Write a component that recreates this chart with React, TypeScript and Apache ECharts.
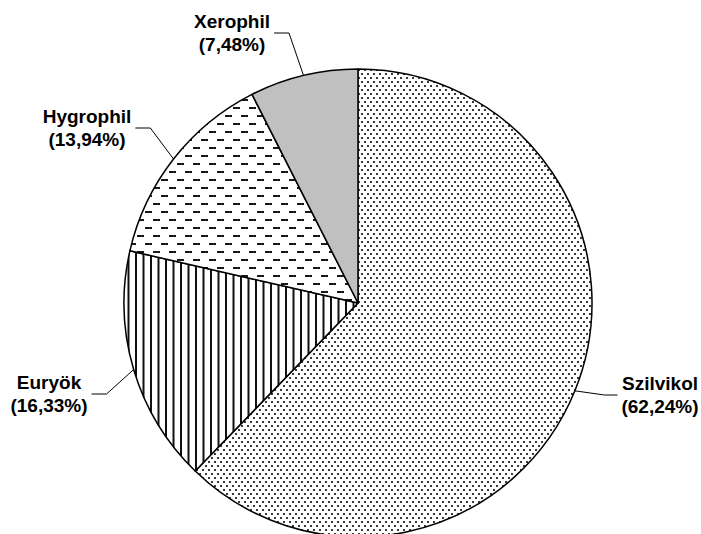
import React, { useEffect, useRef } from "react";
import * as echarts from "echarts";

const categories = ["Szilvikol", "Euryök", "Hygrophil", "Xerophil"];
const values = [62.24, 16.33, 13.94, 7.48];
const percentLabels = ["62,24%", "16,33%", "13,94%", "7,48%"];

// layout: label block centres and leader elbow offsets
const labelCenters: Record<string, [number, number]> = {
  Szilvikol: [660, 395],
  "Euryök": [49, 394],
  Hygrophil: [87, 128],
  Xerophil: [232, 33],
};

function makeTile(w: number, h: number, draw: (c: CanvasRenderingContext2D) => void) {
  const cv = document.createElement("canvas");
  cv.width = w;
  cv.height = h;
  const ctx = cv.getContext("2d")!;
  ctx.fillStyle = "#ffffff";
  ctx.fillRect(0, 0, w, h);
  draw(ctx);
  return cv;
}

export default function App() {
  const ref = useRef<HTMLDivElement>(null);
  useEffect(() => {
    if (!ref.current) return;
    const chart = echarts.init(ref.current, null, { renderer: "svg" });

    const dots = makeTile(6, 8, (c) => {
      c.fillStyle = "#3a3a3a";
      c.fillRect(1, 1, 2, 2);
      c.fillRect(4, 5, 2, 2);
    });
    const vlines = makeTile(15, 10, (c) => {
      c.fillStyle = "#111111";
      c.fillRect(0, 0, 2, 10);
      c.fillRect(7.5, 0, 2, 10);
    });
    const dashes = makeTile(16, 16, (c) => {
      c.fillStyle = "#1a1a1a";
      c.fillRect(1, 3, 7, 2);
      c.fillRect(9, 11, 7, 2);
    });
    const fills: any[] = [
      { image: dots, repeat: "repeat" },
      { image: vlines, repeat: "repeat" },
      { image: dashes, repeat: "repeat" },
      "#c0c0c0",
    ];

    const data = categories.map((name, i) => ({
      name,
      value: values[i],
      itemStyle: { color: fills[i] },
    }));

    chart.setOption({
      animation: false,
      backgroundColor: "#ffffff",
      series: [
        {
          type: "pie",
          center: [358, 303],
          radius: 234,
          startAngle: 90,
          clockwise: true,
          data,
          itemStyle: { borderColor: "#000000", borderWidth: 1.5 },
          emphasis: { disabled: true },
          label: {
            show: true,
            position: "outside",
            formatter: (p: any) => `${p.name}\n(${percentLabels[p.dataIndex]})`,
            color: "#000000",
            fontFamily: "Liberation Sans, Arial, sans-serif",
            fontWeight: "bold",
            fontSize: 19,
            lineHeight: 23,
          },
          labelLine: {
            show: true,
            length: 20,
            length2: 10,
            lineStyle: { color: "#000000", width: 1 },
          },
          labelLayout: (params: any) => {
            const name = categories[params.dataIndex];
            const [cx, cy] = labelCenters[name];
            const w = params.labelRect.width;
            const p0 = params.labelLinePoints ? params.labelLinePoints[0] : [cx, cy];
            const right = cx > 358;
            const edge = right ? cx - w / 2 - 4 : cx + w / 2 + 4;
            const p2 = [edge, cy];
            const p1 = [right ? edge - 13 : edge + 15, cy];
            return {
              x: cx,
              y: cy,
              align: "center",
              verticalAlign: "middle",
              labelLinePoints: [p0, p1, p2],
            };
          },
        },
      ],
    });
    return () => chart.dispose();
  }, []);
  return (
    <div
      ref={ref}
      style={{ position: "fixed", left: 0, top: 0, width: 701, height: 534 }}
    />
  );
}
